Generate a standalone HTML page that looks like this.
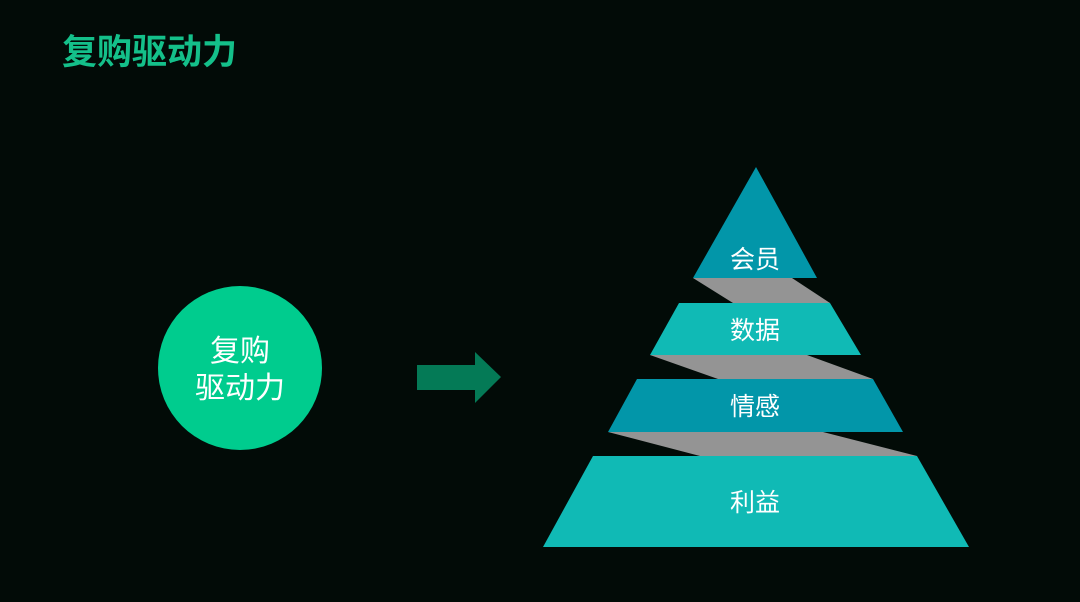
<!DOCTYPE html>
<html><head><meta charset="utf-8"><style>
html,body{margin:0;padding:0;background:#020b07;}
body{width:1080px;height:602px;overflow:hidden;position:relative;}
svg{position:absolute;left:0;top:0;}
</style></head><body>
<svg width="1080" height="602" viewBox="0 0 1080 602" xmlns="http://www.w3.org/2000/svg">
<rect width="1080" height="602" fill="#020b07"/>
<text x="62" y="64" font-family="Liberation Sans, Noto Sans CJK SC, sans-serif" font-weight="bold" font-size="35" fill="#14c08a">复购驱动力</text>
<circle cx="240" cy="368" r="82" fill="#00cc8e"/>
<text x="240" y="361" text-anchor="middle" font-family="Liberation Sans, Noto Sans CJK SC, sans-serif" font-size="30" fill="#fff">复购</text>
<text x="240" y="398" text-anchor="middle" font-family="Liberation Sans, Noto Sans CJK SC, sans-serif" font-size="30" fill="#fff">驱动力</text>
<polygon points="417,365 475,365 475,352 501,377 475,403 475,390 417,390" fill="#047a56"/>
<polygon points="693,278 792,278 830,303 733,303" fill="#949494"/>
<polygon points="650,355 807,355 873,379 718,379" fill="#949494"/>
<polygon points="608,432 823,432 917,456 700,456" fill="#949494"/>
<polygon points="756,167 817,278 693,278" fill="#0296a9"/>
<polygon points="679,303 830,303 861,355 650,355" fill="#10bab5"/>
<polygon points="637,379 873,379 903,432 608,432" fill="#0296a9"/>
<polygon points="593,456 917,456 969,547 543,547" fill="#10bab5"/>
<g font-family="Liberation Sans, Noto Sans CJK SC, sans-serif" font-size="25" fill="#fff" text-anchor="middle">
<text x="755" y="268">会员</text>
<text x="755" y="339">数据</text>
<text x="755" y="415">情感</text>
<text x="755" y="511">利益</text>
</g>
</svg>
</body></html>
